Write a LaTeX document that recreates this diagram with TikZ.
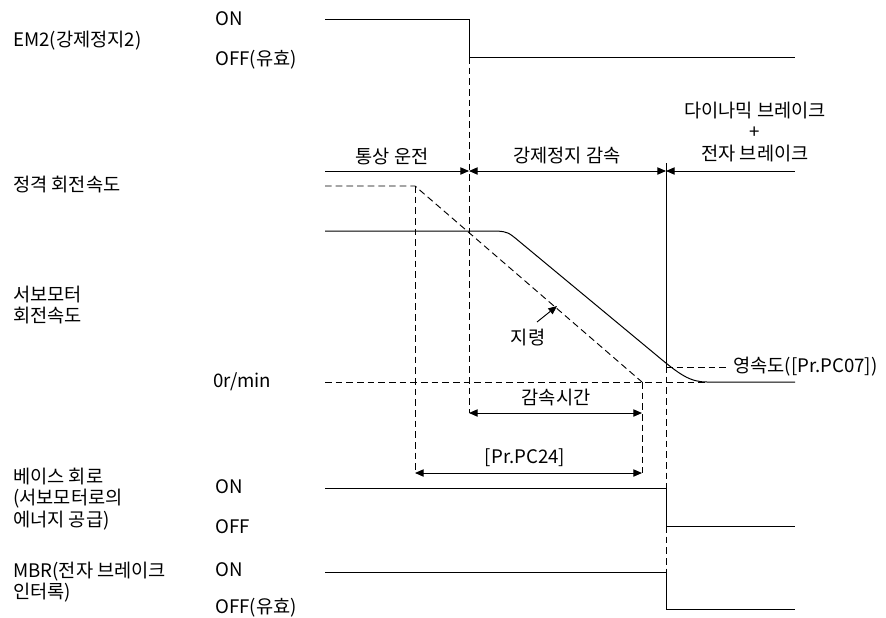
\documentclass[tikz,border=0pt]{standalone}
\usepackage{fontspec}
\setmainfont{Noto Sans CJK KR}
\usepackage{tikz}
\usetikzlibrary{arrows.meta, positioning, calc}
\tikzset{
  >={Triangle[length=6.5pt, width=5.5pt]},
  sig/.style={line width=0.75pt},
  guide/.style={line width=0.7pt, dash pattern=on 5pt off 3pt},
  lbl/.style={anchor=west, inner sep=0pt, align=left,
    font=\fontsize{14pt}{16pt}\selectfont},
  tag/.style={inner sep=0pt, align=center,
    font=\fontsize{14pt}{16pt}\selectfont},
  dim/.style={line width=0.7pt, <->},
}

\begin{document}
\begin{tikzpicture}[x=0.75pt, y=-0.75pt]
  \useasboundingbox (0,0) rectangle (886,618);

  % signal names
  \node[lbl] (em2) at (13,41) {EM2(강제정지2)};
  \node[lbl] (em2on) at (215,19) {ON};
  \node[lbl] (em2off) at (215,60) {OFF(유효)};
  \node[lbl] (rated) at (13,185) {정격 회전속도};
  \node[lbl] (speed) at (13,305) {서보모터\\회전속도};
  \node[lbl] (zero) at (213,382) {0r/min};
  \node[lbl] (base) at (13,499) {베이스 회로\\(서보모터로의\\에너지 공급)};
  \node[lbl] (baseon) at (215,487) {ON};
  \node[lbl] (baseoff) at (215,527) {OFF};
  \node[lbl] (mbr) at (13,582) {MBR(전자 브레이크\\인터록)};
  \node[lbl] (mbron) at (215,570) {ON};
  \node[lbl] (mbroff) at (215,608) {OFF(유효)};

  % phases
  \node[tag] (normal) at (392,156) {통상 운전};
  \node[tag] (decel) at (567,156) {강제정지 감속};
  \node[tag] (dynbrk) at (755,132) {다이나믹 브레이크\\+\\전자 브레이크};
  \coordinate (r0) at (325,171);
  \coordinate (r1) at (469,171);
  \coordinate (r2) at (666,171);
  \coordinate (r3) at (795,171);
  \draw[line width=0.7pt, ->] (r0) -- (r1);
  \draw[dim] (r1) -- (r2);
  \draw[line width=0.7pt, <-] (r2) -- (r3);

  % EM2
  \draw[sig] (325,19) -- (469,19) -- (469,57) -- (795,57);
  % base circuit, MBR
  \draw[sig] (325,488) -- (666,488) -- (666,526) -- (795,526);
  \draw[sig] (325,572) -- (666,572) -- (666,609) -- (795,609);

  % guide lines
  \draw[guide] (469,57) -- (469,413);
  \draw[sig] (666,163) -- (666,366);
  \draw[guide] (666,366) -- (666,488);
  \draw[guide] (666,526) -- (666,572);
  \draw[guide] (325,186) -- (415,186) -- (642,382);
  \draw[guide] (415,186) -- (415,473);
  \draw[guide] (642,382) -- (642,473);
  \draw[guide] (325,382) -- (707,382);

  % servo motor speed
  \draw[sig] (325,231) -- (497,231) .. controls (508,232) .. (520,242)
    -- (655,354) .. controls (680,375) and (690,382) .. (707,382) -- (795,382);

  % zero speed
  \node[lbl] (zspd) at (733,367) {영속도([Pr.PC07])};
  \draw[guide] (666,367) -- ($(zspd.west)+(-7,0)$);

  % command
  \node[tag] (cmd) at (528,338) {지령};
  \coordinate (cmdtail) at (537,322);
  \coordinate (cmdtip) at (557,306);
  \draw[line width=0.7pt, ->] (cmdtail) -- (cmdtip);

  % times
  \coordinate (dA) at (469,413);
  \coordinate (dB) at (642,413);
  \draw[dim] (dA) -- (dB);
  \node[tag] (dtime) at (556,398) {감속시간};
  \coordinate (pA) at (415,473);
  \coordinate (pB) at (642,473);
  \draw[dim] (pA) -- (pB);
  \node[tag] (pc24) at (525,458) {[Pr.PC24]};
\end{tikzpicture}
\end{document}
